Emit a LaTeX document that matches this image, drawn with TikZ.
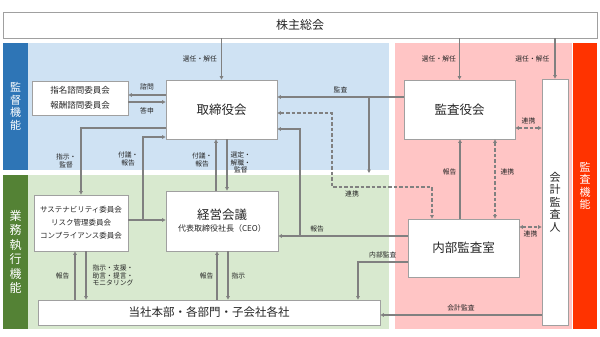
\documentclass[tikz,border=0pt]{standalone}
\usepackage{fontspec}
\setmainfont{Noto Sans CJK JP}
\usepackage{tikz}
\usetikzlibrary{arrows.meta,positioning,calc}
\definecolor{lineg}{RGB}{128,128,128}
\definecolor{boxgray}{RGB}{160,160,160}
\definecolor{textdark}{RGB}{38,38,38}
\definecolor{lightblue}{RGB}{207,226,243}
\definecolor{stripblue}{RGB}{46,117,182}
\definecolor{lightgreen}{RGB}{216,233,207}
\definecolor{stripgreen}{RGB}{84,130,53}
\definecolor{lightpink}{RGB}{255,197,197}
\definecolor{stripred}{RGB}{255,51,0}

\begin{document}
\begin{tikzpicture}[x=1pt, y=-1pt,
    strip/.style={fill=#1, text=white, align=center, inner sep=0pt, minimum width=25pt},
    box/.style={draw=boxgray, fill=white, line width=0.8pt, align=center,
                inner sep=1pt, text=textdark},
    lbl/.style={font=\fontsize{6.8}{7.8}\selectfont, text=textdark, align=center, inner sep=0pt},
    arr/.style={-{Triangle[length=3.5pt,width=3.5pt]}, line width=1.2pt, lineg},
    darr/.style={{Triangle[length=3.5pt,width=3.5pt]}-{Triangle[length=3.5pt,width=3.5pt]},
                 line width=1.2pt, lineg, dash pattern=on 3.5pt off 2pt},
]
    \useasboundingbox (0,0) rectangle (600,337);

    % areas
    \fill[lightblue] (28,43) rectangle (389,170);
    \fill[lightgreen] (28,175) rectangle (389,329);
    \fill[lightpink] (395,43) rectangle (572,329);
    \node[strip=stripblue, minimum height=127pt, font=\fontsize{11}{12.5}\selectfont]
        (kantoku) at (15.5,106.5) {監\\督\\機\\能};
    \node[strip=stripgreen, minimum height=154pt, font=\fontsize{12}{14.5}\selectfont]
        (shikko) at (15.5,252) {業\\務\\執\\行\\機\\能};
    \node[strip=stripred, minimum width=24pt, minimum height=286pt, font=\fontsize{11}{12.5}\selectfont]
        (kansa) at (585,186) {監\\査\\機\\能};

    % boxes
    \node[box, minimum width=594pt, minimum height=26pt, font=\fontsize{12}{14}\selectfont]
        (sh) at (300,25) {株主総会};
    \node[box, minimum width=111pt, minimum height=59pt, font=\fontsize{12.5}{14}\selectfont]
        (dir) at (221.5,109.5) {取締役会};
    \node[box, minimum width=96pt, minimum height=34pt, font=\fontsize{8.5}{14.5}\selectfont]
        (nom) at (80,98) {指名諮問委員会\\報酬諮問委員会};
    \node[box, minimum width=111pt, minimum height=59pt, font=\fontsize{12.5}{14}\selectfont]
        (kan) at (459.5,109.5) {監査役会};
    \node[box, minimum width=26pt, minimum height=246pt, font=\fontsize{11}{12.6}\selectfont]
        (ext) at (555,202) {会\\計\\監\\査\\人};
    \node[box, minimum width=94pt, minimum height=56pt, font=\fontsize{7.5}{13}\selectfont]
        (sus) at (81,223) {サステナビリティ委員会\\リスク管理委員会\\コンプライアンス委員会};
    \node[box, minimum width=112pt, minimum height=60pt]
        (mgmt) at (222,221) {\fontsize{12.5}{15}\selectfont 経営会議\\
        \fontsize{8}{10}\selectfont 代表取締役社長（CEO）};
    \node[box, minimum width=111pt, minimum height=58pt, font=\fontsize{12.5}{14}\selectfont]
        (ia) at (463.5,248) {内部監査室};
    \node[box, minimum width=342pt, minimum height=25pt, font=\fontsize{11.5}{13}\selectfont]
        (hq) at (209,312.5) {当社本部・各部門・子会社各社};

    \coordinate (j1) at (143,220);
    \coordinate (j2) at (369,97);
    \coordinate (e1) at (369,173);
    \coordinate (j3) at (300,236);

    % shareholders
    \draw[arr] (sh.south -| dir.north) -- (dir.north) node[lbl, midway, left=4pt] {選任・解任};
    \draw[arr] (sh.south -| kan.north) -- (kan.north) node[lbl, midway, left=3pt] {選任・解任};
    \draw[arr] (sh.south -| ext.north) -- (ext.north) node[lbl, midway, left=5pt] {選任・解任};

    % board
    \draw[arr] (dir.west |- 0,95) -- (nom.east |- 0,95) node[lbl, midway, above=4pt] {諮問};
    \draw[arr] (nom.east |- 0,102) -- (dir.west |- 0,102) node[lbl, midway, below=5pt] {答申};
    \draw[arr] (dir.west |- 0,128) -| (sus.north) node[lbl, pos=0.75, left=4pt] {指示・\\監督};
    \draw[arr] (sus.east |- j1) -- (mgmt.west |- j1);
    \draw[arr] (j1) |- (dir.west |- 0,137) node[lbl, pos=0.37, left=4pt] {付議・\\報告};
    \draw[arr] (mgmt.north -| 216,0) -- (dir.south -| 216,0) node[lbl, pos=0.6, left=3pt] {付議・\\報告};
    \draw[arr] (dir.south -| 227,0) -- (mgmt.north -| 227,0) node[lbl, pos=0.45, right=3pt] {選定・\\解職・\\監督};

    % audit
    \draw[arr] (kan.west |- j2) -- (dir.east |- j2) node[lbl, midway, above=3pt] {監査};
    \draw[arr] (j2) -- (e1);
    \draw[darr] (dir.east |- 0,113) -| (332,187) -| ([xshift=-31.5pt]ia.north)
        node[lbl, pos=0.1, below=3pt] {連携};
    \draw[arr] (ia.west |- j3) -- (mgmt.east |- j3) node[lbl, pos=0.7, above=3pt] {報告};
    \draw[arr] (j3) |- (dir.east |- 0,129);
    \draw[arr] (ia.west |- 0,262) -| (hq.north -| 358,0) node[lbl, pos=0.25, above=3pt] {内部監査};
    \draw[arr] (ia.north -| 460,0) -- (kan.south -| 460,0) node[lbl, pos=0.59, left=3pt] {報告};
    \draw[darr] (kan.south -| 495,0) -- (ia.north -| 495,0) node[lbl, pos=0.41, right=5pt] {連携};
    \draw[darr] (kan.east |- 0,128) -- (ext.west |- 0,128) node[lbl, midway, above=3pt] {連携};
    \draw[darr] (ia.east |- 0,227) -- (ext.west |- 0,227) node[lbl, midway, below=3pt] {連携};
    \draw[arr] (ext.west |- 0,315) -- (hq.east |- 0,315) node[lbl, midway, above=3pt] {会計監査};

    % execution
    \draw[arr] (hq.north -| 75,0) -- (sus.south -| 75,0) node[lbl, midway, left=5pt] {報告};
    \draw[arr] (sus.south -| 86,0) -- (hq.north -| 86,0)
        node[lbl, midway, right=6pt, align=left] {指示・支援・\\助言・提言・\\モニタリング};
    \draw[arr] (hq.north -| 217,0) -- (mgmt.south -| 217,0) node[lbl, midway, left=3pt] {報告};
    \draw[arr] (mgmt.south -| 228,0) -- (hq.north -| 228,0) node[lbl, midway, right=3pt] {指示};
\end{tikzpicture}
\end{document}
